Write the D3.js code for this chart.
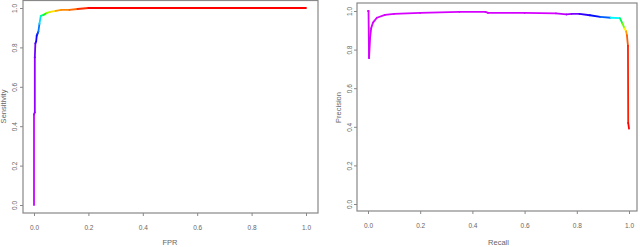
<!DOCTYPE html>
<html>
<head>
<meta charset="utf-8">
<script src="https://cdn.jsdelivr.net/npm/d3@7"></script>
<style>
  body { margin: 0; background: #fff; }
  svg { display: block; font-family: "Liberation Sans", Arial, sans-serif; }
  .tick text { fill: #666; font-size: 6.5px; }
  .tick line { stroke: #888; }
  .titulo { fill: #666; font-size: 7.5px; }
</style>
</head>
<body>
<svg id="grafico" width="640" height="247"></svg>
<script>
// ROC (esquerda)
let rocFpr  = [0, 0, 0.003, 0.003, 0.005, 0.008, 0.010, 0.013, 0.016, 0.020, 0.025, 0.035, 0.047, 0.060, 0.080, 0.100, 0.130, 0.160, 0.200, 1.0];
let rocSens = [0, 0.46, 0.47, 0.75, 0.82, 0.83, 0.86, 0.87, 0.88, 0.92, 0.96, 0.965, 0.975, 0.98, 0.985, 0.99, 0.99, 0.995, 1.0, 1.0];
let rocCorte = [0, 0.02, 0.05, 0.06, 0.10, 0.14, 0.17, 0.20, 0.24, 0.30, 0.40, 0.55, 0.65, 0.78, 0.86, 0.88, 0.90, 0.93, 1.0, 1.0];

// Precision-Recall (direita)
let prRecall    = [0, 0.002, 0.004, 0.008, 0.012, 0.019, 0.034, 0.065, 0.10, 0.20, 0.35, 0.45, 0.46, 0.60, 0.72, 0.76, 0.78, 0.81, 0.85, 0.89, 0.93, 0.965, 0.975, 0.983, 0.989, 0.992, 0.996, 0.997, 1.0];
let prPrecision = [1.0, 1.0, 0.756, 0.86, 0.91, 0.94, 0.965, 0.98, 0.985, 0.99, 0.995, 0.995, 0.99, 0.99, 0.988, 0.982, 0.985, 0.985, 0.978, 0.97, 0.965, 0.963, 0.935, 0.91, 0.895, 0.875, 0.82, 0.42, 0.39];
let prCorte     = [0, 0, 0, 0, 0, 0, 0, 0, 0, 0, 0, 0, 0, 0, 0, 0.03, 0.05, 0.10, 0.17, 0.20, 0.30, 0.45, 0.60, 0.75, 0.85, 0.90, 0.95, 1.0, 1.0];

let ticks = [0, 0.2, 0.4, 0.6, 0.8, 1.0];

let svg = d3.select("#grafico");
let matiz = d3.scaleLinear().domain([0, 1]).range([290, 0]);
let cor = t => d3.hsl(matiz(t), 1, 0.5).toString();

function desenha(cfg) {
    let x = d3.scaleLinear().domain([0, 1]).range([cfg.x0, cfg.x1]);
    let y = d3.scaleLinear().domain([0, 1]).range([cfg.y0, cfg.y1]);

    let g = svg.append("g");

    // caixa
    g.append("rect")
        .attr("x", cfg.box[0]).attr("y", cfg.box[1])
        .attr("width", cfg.box[2] - cfg.box[0])
        .attr("height", cfg.box[3] - cfg.box[1])
        .attr("fill", "none").attr("stroke", "#888").attr("stroke-width", 1.2);

    let eixoX = g.append("g")
        .attr("transform", `translate(0, ${cfg.box[3]})`)
        .call(d3.axisBottom(x).tickValues(ticks).tickFormat(d3.format(".1f")).tickSize(3).tickPadding(9));
    eixoX.select(".domain").remove();

    let eixoY = g.append("g")
        .attr("transform", `translate(${cfg.box[0]}, 0)`)
        .call(d3.axisLeft(y).tickValues(ticks).tickFormat(d3.format(".1f")).tickSize(3).tickPadding(0));
    eixoY.select(".domain").remove();
    eixoY.selectAll(".tick text")
        .attr("x", 0).attr("dy", 0)
        .attr("text-anchor", "middle")
        .attr("transform", `translate(${cfg.yLab - cfg.box[0]}, 0) rotate(-90)`)
        .attr("dominant-baseline", "central");

    // segmentos coloridos
    let linha = d3.line().x(d => x(d[0])).y(d => y(d[1]));
    let pts = cfg.xs.map((v, i) => [v, cfg.ys[i], cfg.ts[i]]);
    d3.pairs(pts).forEach(([a, b]) => {
        g.append("path")
            .attr("d", linha([a, b]))
            .attr("fill", "none")
            .attr("stroke", cor((a[2] + b[2]) / 2))
            .attr("stroke-width", 1.8)
            .attr("stroke-linecap", "round");
    });

    g.append("text").attr("class", "titulo")
        .attr("x", (cfg.x0 + cfg.x1) / 2).attr("y", 245)
        .attr("text-anchor", "middle")
        .text(cfg.xTitulo);

    g.append("text").attr("class", "titulo")
        .attr("transform", `translate(${cfg.yTit}, ${(cfg.y0 + cfg.y1) / 2}) rotate(-90)`)
        .attr("text-anchor", "middle")
        .attr("dominant-baseline", "central")
        .text(cfg.yTitulo);
}

desenha({
    x0: 34, x1: 306, y0: 205, y1: 8,
    box: [23, 0.5, 318, 213],
    yLab: 14, yTit: 3,
    xs: rocFpr, ys: rocSens, ts: rocCorte,
    xTitulo: "FPR", yTitulo: "Sensitivity"
});

desenha({
    x0: 368, x1: 629, y0: 204, y1: 11,
    box: [357, 3, 637, 211],
    yLab: 349, yTit: 338,
    xs: prRecall, ys: prPrecision, ts: prCorte,
    xTitulo: "Recall", yTitulo: "Precision"
});
</script>
</body>
</html>
